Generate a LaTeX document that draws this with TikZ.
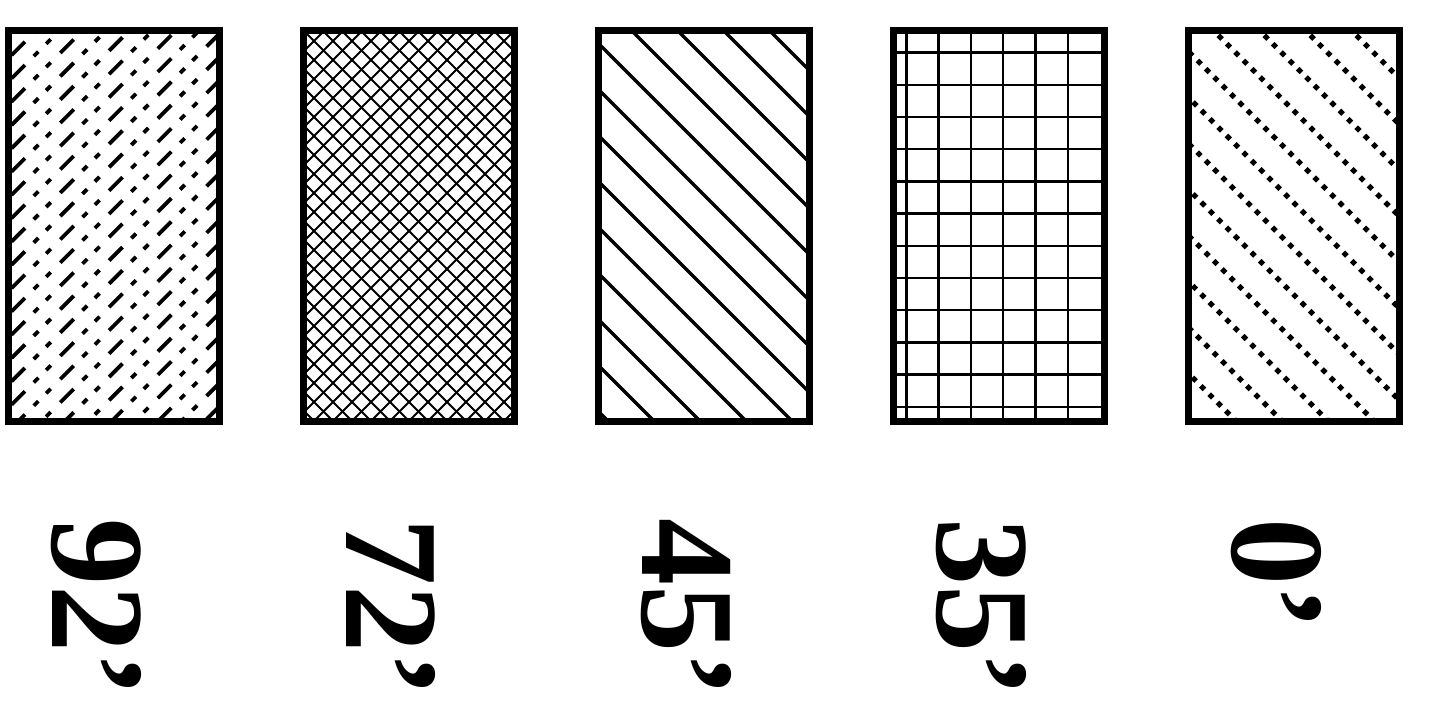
\documentclass[tikz,border=0pt]{standalone}
\usepackage{fontspec}
\setmainfont{Liberation Serif}
\usetikzlibrary{positioning,calc}

\begin{document}
\begin{tikzpicture}[x=0.5pt, y=-0.5pt, node distance=38.5pt,
    hatchbox/.style={rectangle, draw, line width=3.5pt, minimum width=105.5pt, minimum height=195.5pt, inner sep=0pt},
    angle_lbl/.style={rotate=-90, anchor=west, inner sep=0pt, font=\fontsize{67pt}{67pt}\selectfont\bfseries},
    dash_hatch/.style={line width=1.9pt, dash pattern=on 9.5pt off 6.25pt on 3.25pt off 5.5pt on 3.25pt off 6.75pt},
    cross_hatch/.style={line width=1pt},
    line_hatch/.style={line width=1.6pt},
    dot_hatch/.style={line width=2.6pt, dash pattern=on 2.6pt off 3.3pt},
    grid_hatch/.style={line width=1.2pt}]

    \useasboundingbox (0,0) rectangle (1453,707);

    % sample boxes
    \node [hatchbox] (r92) at (114,226) {};
    \node [hatchbox, right=of r92] (r72) {};
    \node [hatchbox, right=of r72] (r45) {};
    \node [hatchbox, right=of r45] (r35) {};
    \node [hatchbox, right=of r35] (r0) {};

    % labels
    \node [angle_lbl] (l92) at ($(r92.south)+(-18,93)$) {92’};
    \node [angle_lbl] (l72) at ($(r72.south)+(-18,93)$) {72’};
    \node [angle_lbl] (l45) at ($(r45.south)+(-18,93)$) {45’};
    \node [angle_lbl] (l35) at ($(r35.south)+(-18,93)$) {35’};
    \node [angle_lbl] (l0) at ($(r0.south)+(-18,93)$) {0’};

    % dash-dot hatch
    \begin{scope}[shift={(r92.north west)}]
        \clip ([shift={(2pt,-2pt)}]r92.north west) rectangle ([shift={(-2pt,2pt)}]r92.south east);
        \foreach \k in {-1,...,25}
            \draw [dash_hatch] ({13.3-494.7},{21.4+23.3*\k+494.7}) -- ++(1100,-1100);
    \end{scope}

    % cross hatch
    \begin{scope}[shift={(r72.north west)}]
        \clip ([shift={(2pt,-2pt)}]r72.north west) rectangle ([shift={(-2pt,2pt)}]r72.south east);
        \foreach \k in {0,...,33}
            \draw [cross_hatch] ({9+19*\k},0) -- ++(-450,450);
        \foreach \k in {-21,...,12}
            \draw [cross_hatch] ({19*\k},0) -- ++(450,450);
    \end{scope}

    % plain hatch
    \begin{scope}[shift={(r45.north west)}]
        \clip ([shift={(2pt,-2pt)}]r45.north west) rectangle ([shift={(-2pt,2pt)}]r45.south east);
        \foreach \k in {-4,...,9}
            \draw [line_hatch] ({33-46*\k},0) -- ++(650,650);
    \end{scope}

    % grid
    \begin{scope}[shift={(r35.north west)}]
        \clip ([shift={(2pt,-2pt)}]r35.north west) rectangle ([shift={(-2pt,2pt)}]r35.south east);
        \foreach \i in {0,...,5}
            \draw [grid_hatch] ({16.3+32.3*\i},0) -- ++(0,398);
        \foreach \j in {0,...,11}
            \draw [grid_hatch] (0,{25.6+32.2*\j}) -- ++(218,0);
    \end{scope}

    % dotted hatch
    \begin{scope}[shift={(r0.north west)}]
        \clip ([shift={(2pt,-2pt)}]r0.north west) rectangle ([shift={(-2pt,2pt)}]r0.south east);
        \foreach \k in {-4,...,9}
            \draw [dot_hatch] ({25-46*\k},0) -- ++(650,650);
    \end{scope}
\end{tikzpicture}
\end{document}
